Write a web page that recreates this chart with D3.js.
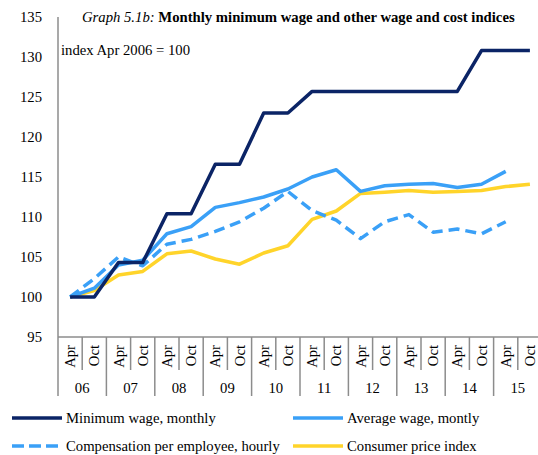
<!DOCTYPE html>
<html>
<head>
<meta charset="utf-8">
<script src="https://cdn.jsdelivr.net/npm/d3@7"></script>
<style>
  body { margin: 0; background: #fff; }
  svg { display: block; font-family: "Liberation Serif", "Times New Roman", serif; }
</style>
</head>
<body>
<svg width="538" height="455"></svg>
<script>
"use strict";

var halves = ['Apr', 'Oct'];
var years = ['06', '07', '08', '09', '10', '11', '12', '13', '14', '15'];
var yTicks = [95, 100, 105, 110, 115, 120, 125, 130, 135];

var minWage = [100, 100, 104.3, 104.3, 110.4, 110.4, 116.6, 116.6, 123, 123,
    125.7, 125.7, 125.7, 125.7, 125.7, 125.7, 125.7, 130.8, 130.8, 130.8];
var avgWage = [100, 101.1, 104.0, 104.6, 107.9, 108.8, 111.2, 111.8, 112.5, 113.5,
    115.0, 115.9, 113.2, 113.9, 114.1, 114.2, 113.7, 114.1, 115.7, null];
var compEmp = [100, 102.3, 105.0, 103.9, 106.6, 107.2, 108.2, 109.4, 111.1, 113.2,
    110.8, 109.6, 107.3, 109.4, 110.3, 108.1, 108.5, 107.9, 109.4, null];
var cpi = [100, 100.8, 102.75, 103.2, 105.4, 105.75, 104.75, 104.1, 105.5, 106.4,
    109.7, 110.75, 112.95, 113.1, 113.3, 113.1, 113.2, 113.3, 113.8, 114.1];

var series = [
    { name: 'Minimum wage, monthly', values: minWage, color: '#0b2466', dash: null },
    { name: 'Average wage, montly', values: avgWage, color: '#3aa0f7', dash: null },
    { name: 'Compensation per employee, hourly', values: compEmp, color: '#3aa0f7', dash: '11,6' },
    { name: 'Consumer price index', values: cpi, color: '#ffd42a', dash: null }
];

var fontSize = '14.7px';

var svg = d3.select('svg');

var idx = d3.range(years.length * 2);

var xScale = d3.scaleBand()
    .domain(idx)
    .range([58, 542]);

var yScale = d3.scaleLinear()
    .domain([95, 135])
    .range([337, 17]);

var axisColor = '#8c8c8c';

// y axis (line only, labels left)
svg.append('line')
    .attr('x1', 58).attr('x2', 58)
    .attr('y1', yScale(135)).attr('y2', yScale(95))
    .attr('stroke', axisColor).attr('stroke-width', 1.5);

svg.selectAll('text.ytick')
    .data(yTicks)
    .enter()
    .append('text')
    .attr('class', 'ytick')
    .attr('x', 42)
    .attr('y', function (d) { return yScale(d); })
    .attr('dy', '0.35em')
    .attr('text-anchor', 'end')
    .style('font-size', fontSize)
    .text(function (d) { return d; });

// x axis
svg.append('line')
    .attr('x1', 58).attr('x2', 542)
    .attr('y1', yScale(95)).attr('y2', yScale(95))
    .attr('stroke', axisColor).attr('stroke-width', 1.5);

// separators: long at year borders, short between Apr and Oct
svg.selectAll('line.sep')
    .data(d3.range(idx.length + 1))
    .enter()
    .append('line')
    .attr('class', 'sep')
    .attr('x1', function (i) { return 58 + i * xScale.bandwidth(); })
    .attr('x2', function (i) { return 58 + i * xScale.bandwidth(); })
    .attr('y1', yScale(95))
    .attr('y2', function (i) { return i % 2 === 0 ? 396 : 370; })
    .attr('stroke', axisColor).attr('stroke-width', 1.5);

svg.selectAll('text.half')
    .data(idx)
    .enter()
    .append('text')
    .attr('class', 'half')
    .attr('transform', function (i) {
        return 'translate(' + (xScale(i) + xScale.bandwidth() / 2) + ',345) rotate(-90)';
    })
    .attr('dy', '0.35em')
    .attr('text-anchor', 'end')
    .style('font-size', fontSize)
    .text(function (i) { return halves[i % 2]; });

svg.selectAll('text.year')
    .data(years)
    .enter()
    .append('text')
    .attr('class', 'year')
    .attr('x', function (d, i) { return xScale(i * 2) + xScale.bandwidth(); })
    .attr('y', 393)
    .attr('text-anchor', 'middle')
    .style('font-size', fontSize)
    .text(function (d) { return d; });

// lines
var line = d3.line()
    .defined(function (d) { return d != null; })
    .x(function (d, i) { return xScale(i) + xScale.bandwidth() / 2; })
    .y(function (d) { return yScale(d); });

var order = [3, 2, 1, 0];
svg.selectAll('path.series')
    .data(order.map(function (k) { return series[k]; }))
    .enter()
    .append('path')
    .attr('class', 'series')
    .attr('fill', 'none')
    .attr('stroke', function (d) { return d.color; })
    .attr('stroke-width', 3.5)
    .attr('stroke-linejoin', 'round')
    .attr('stroke-dasharray', function (d) { return d.dash; })
    .attr('d', function (d) { return line(d.values); });

// title and note
var title = svg.append('text')
    .attr('x', 82)
    .attr('y', 22)
    .style('font-size', fontSize);
title.append('tspan').style('font-style', 'italic').text('Graph 5.1b: ');
title.append('tspan').style('font-weight', 'bold').text('Monthly minimum wage and other wage and cost indices');

svg.append('text')
    .attr('x', 61)
    .attr('y', 55)
    .style('font-size', fontSize)
    .text('index Apr 2006 = 100');

// legend
var legendPos = [[12, 418], [293, 418], [12, 446], [293, 446]];
var legend = svg.selectAll('g.legend')
    .data(series)
    .enter()
    .append('g')
    .attr('class', 'legend')
    .attr('transform', function (d, i) {
        return 'translate(' + legendPos[i][0] + ',' + legendPos[i][1] + ')';
    });

legend.append('line')
    .attr('x1', 0).attr('x2', 50)
    .attr('stroke', function (d) { return d.color; })
    .attr('stroke-width', 3.5)
    .attr('stroke-dasharray', function (d) { return d.dash ? '12,5' : null; });

legend.append('text')
    .attr('x', 54)
    .attr('dy', '0.35em')
    .style('font-size', fontSize)
    .text(function (d) { return d.name; });
</script>
</body>
</html>
